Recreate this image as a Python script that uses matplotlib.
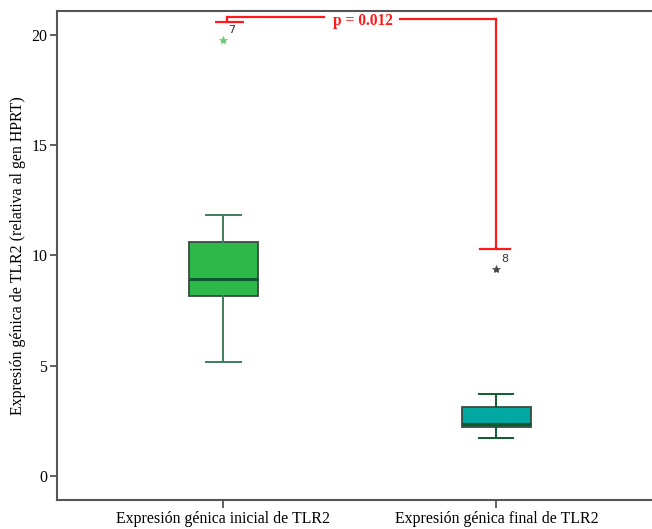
import matplotlib
matplotlib.use("Agg")
import matplotlib.pyplot as plt

categories = ["Expresión génica inicial de TLR2", "Expresión génica final de TLR2"]
whisker_low = [5.17, 1.71]
q1 = [8.14, 2.21]
median = [8.92, 2.34]
q3 = [10.59, 3.12]
whisker_high = [11.84, 3.70]
outliers = [[19.76], [9.37]]
outlier_ids = ["7", "8"]
p_text = "p = 0.012"
yticks = [0, 5, 10, 15, 20]

fills = ["#2fb84a", "#00a8a2"]
whisk_colors = ["#3f7d5c", "#0d5c30"]
star_colors = ["#66cc77", "#444444"]

fig = plt.figure(figsize=(6.52, 5.29), dpi=100)
ax = fig.add_axes([0.0874, 0.0548, 0.9126, 0.925])

positions = [1, 2]
for i in range(2):
    stats = [dict(med=median[i], q1=q1[i], q3=q3[i], whislo=whisker_low[i],
                  whishi=whisker_high[i], fliers=[], label=categories[i])]
    ax.bxp(stats, positions=[positions[i]], widths=0.25, patch_artist=True,
           showfliers=False,
           boxprops=dict(facecolor=fills[i], edgecolor="#3a4a40", linewidth=1.3),
           medianprops=dict(color="#0b5a2e", linewidth=2.2),
           whiskerprops=dict(color=whisk_colors[i], linewidth=1.4),
           capprops=dict(color=whisk_colors[i], linewidth=1.4),
           capwidths=0.125, manage_ticks=False)
    for v in outliers[i]:
        ax.plot(positions[i], v, marker="*", color=star_colors[i], markersize=6,
                markeredgewidth=0.5, linestyle="none")
        ax.annotate(outlier_ids[i], (positions[i], v), xytext=(6, 7.5),
                    textcoords="offset points", fontsize=8, color="#333333",
                    family="DejaVu Sans", ha="center", va="center")

# significance bracket
red = "#ff1a1a"
lw = 1.6
ax.plot([0.969, 1.075], [20.58, 20.58], color=red, lw=lw, solid_capstyle="butt")
ax.plot([1.013, 1.013], [20.58, 20.80], color=red, lw=lw)
ax.plot([1.013, 1.37], [20.80, 20.80], color=red, lw=lw)
ax.plot([1.648, 1.997], [20.70, 20.70], color=red, lw=lw)
ax.plot([1.997, 1.997], [20.70, 10.28], color=red, lw=lw)
ax.plot([1.94, 2.05], [10.28, 10.28], color=red, lw=lw)
ax.text(1.51, 20.63, p_text, color=red, fontsize=11.2, fontweight="bold",
        family="Liberation Serif", ha="center", va="center")

fs = 11.4
ax.set_xlim(0.39, 2.57)
ax.set_ylim(-1.09, 21.09)
ax.set_yticks(yticks)
ax.set_yticklabels([str(t) for t in yticks], family="Liberation Serif", fontsize=fs)
ax.set_xticks(positions)
ax.set_xticklabels(categories, family="Liberation Serif", fontsize=fs)
ax.tick_params(axis="y", length=5, width=1.2, color="#444444", pad=2)
ax.tick_params(axis="x", length=6, width=1.2, color="#444444", pad=2)
ax.set_ylabel("Expresión génica de TLR2 (relativa al gen HPRT)",
              family="Liberation Serif", fontsize=fs, labelpad=4)
for s in ["left", "bottom", "top"]:
    ax.spines[s].set_color("#555555")
    ax.spines[s].set_linewidth(1.5)
ax.spines["right"].set_visible(False)

fig.savefig("out.png", dpi=100)
